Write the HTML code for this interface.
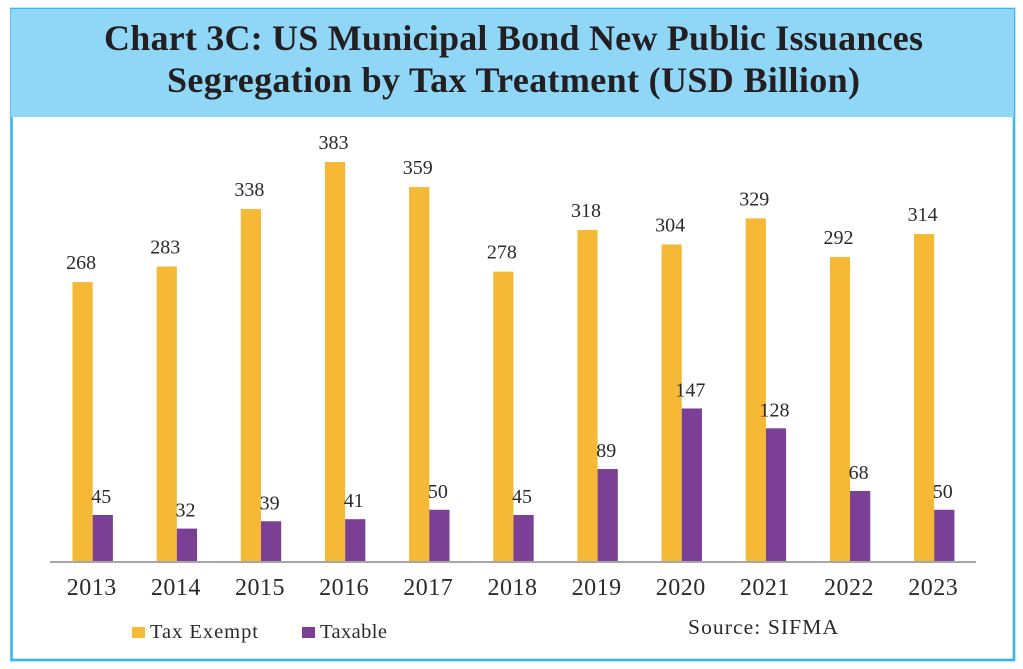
<!DOCTYPE html>
<html lang="en">
<head>
<meta charset="utf-8">
<title>Chart 3C: US Municipal Bond New Public Issuances</title>
<style>
  html, body { margin: 0; padding: 0; background: #fff; }
  svg { display: block; font-family: "Liberation Serif", serif; }
</style>
</head>
<body>
<svg id="chart" xmlns="http://www.w3.org/2000/svg" width="1023" height="669" viewBox="0 0 1023 669">
  <rect x="0" y="0" width="1023" height="669" fill="#ffffff"/>
  <rect x="11.5" y="9" width="1002.5" height="651" fill="#ffffff" stroke="#35b6f0" stroke-width="2.6"/>
  <rect x="11" y="9" width="1003" height="108" fill="#90d6f7"/>
  <text x="513.5" y="50" text-anchor="middle" font-size="36" font-weight="bold" fill="#231f20" textLength="819" lengthAdjust="spacing">Chart 3C: US Municipal Bond New Public Issuances</text>
  <text x="513.5" y="92" text-anchor="middle" font-size="36" font-weight="bold" fill="#231f20" textLength="693" lengthAdjust="spacing">Segregation by Tax Treatment (USD Billion)</text>
  <g id="bars"></g>
  <rect x="50" y="561" width="926" height="2" fill="#a6a6a6"/>
  <g id="labels"></g>
  <g>
    <rect x="132" y="627" width="13" height="11" fill="#f5b935"/>
    <text x="150" y="638" font-size="20.5" fill="#2b2a2c" textLength="108" lengthAdjust="spacing">Tax Exempt</text>
    <rect x="302" y="627" width="13" height="11" fill="#7b3f95"/>
    <text x="320" y="638" font-size="20.5" fill="#2b2a2c" textLength="67" lengthAdjust="spacing">Taxable</text>
  </g>
  <text x="688" y="634" font-size="21.5" fill="#2b2a2c" textLength="150" lengthAdjust="spacing">Source: SIFMA</text>
</svg>
<script>
const categories = ["2013", "2014", "2015", "2016", "2017", "2018", "2019", "2020", "2021", "2022", "2023"];
const taxExempt = [268, 283, 338, 383, 359, 278, 318, 304, 329, 292, 314];
const taxable = [45, 32, 39, 41, 50, 45, 89, 147, 128, 68, 50];

const NS = "http://www.w3.org/2000/svg";
const baselineY = 562;
const unitPx = 400 / 383;
const firstCenter = 92.7;
const stepX = 84.15;
const barW = 20.2;
const barsLayer = document.getElementById("bars");
const labelsLayer = document.getElementById("labels");

function xAxis(i) { return firstCenter + stepX * i; }
function yAxis(v) { return baselineY - v * unitPx; }

function drawBar(x, value, color, name) {
  const r = document.createElementNS(NS, "rect");
  r.setAttribute("x", x);
  r.setAttribute("y", yAxis(value));
  r.setAttribute("width", barW);
  r.setAttribute("height", baselineY - yAxis(value));
  r.setAttribute("fill", color);
  
  
  barsLayer.appendChild(r);
}

function drawText(x, y, str, size, spacing, name) {
  const t = document.createElementNS(NS, "text");
  t.setAttribute("x", x);
  t.setAttribute("y", y);
  t.setAttribute("text-anchor", "middle");
  t.setAttribute("font-size", size);
  t.setAttribute("letter-spacing", spacing);
  t.setAttribute("fill", "#2b2a2c");
  
  
  t.textContent = str;
  labelsLayer.appendChild(t);
}

categories.forEach(function (year, i) {
  const c = xAxis(i);
  drawBar(c - barW, taxExempt[i], "#f5b935", "bar-tax-exempt-" + year);
  drawBar(c, taxable[i], "#7b3f95", "bar-taxable-" + year);
  drawText(c - barW / 2 - 1.5, yAxis(taxExempt[i]) - 13, String(taxExempt[i]), 20, 0, "value-tax-exempt-" + year);
  drawText(c + barW / 2 - 1.5, yAxis(taxable[i]) - 12, String(taxable[i]), 20, 0, "value-taxable-" + year);
  drawText(c - 1, 595, year, 24, 0.5, "x-tick-" + year);
});
</script>
</body>
</html>
